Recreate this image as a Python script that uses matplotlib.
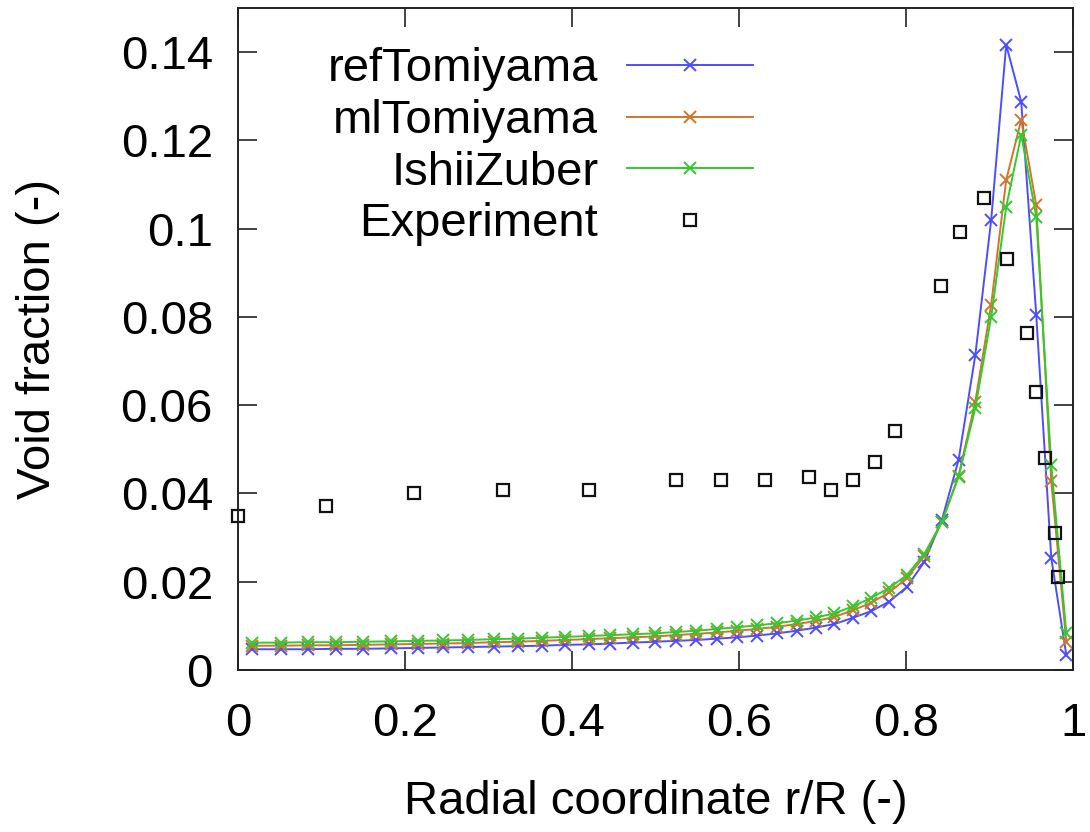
import matplotlib
matplotlib.use("Agg")
import matplotlib.pyplot as plt

plt.rcParams['font.family'] = ['Liberation Sans', 'DejaVu Sans']

# radial mesh positions of the simulation results
r_sim = [0.017, 0.051, 0.084, 0.117, 0.150, 0.183, 0.215, 0.246, 0.276, 0.306,
         0.335, 0.364, 0.392, 0.420, 0.446, 0.473, 0.499, 0.524, 0.549, 0.574,
         0.598, 0.622, 0.646, 0.669, 0.692, 0.714, 0.736, 0.758, 0.780, 0.801,
         0.822, 0.843, 0.863, 0.883, 0.902, 0.920, 0.938, 0.956, 0.974, 0.992]

ref_tomiyama = [0.0047, 0.0047, 0.0047, 0.0048, 0.0048, 0.0049, 0.0050, 0.0051, 0.0052, 0.0053,
                0.0054, 0.0055, 0.0057, 0.0058, 0.0060, 0.0062, 0.0064, 0.0066, 0.0068, 0.0071,
                0.0074, 0.0078, 0.0083, 0.0089, 0.0096, 0.0104, 0.0118, 0.0133, 0.0155, 0.0188,
                0.0245, 0.0340, 0.0476, 0.0713, 0.1019, 0.1416, 0.1287, 0.0804, 0.0253, 0.0034]

ml_tomiyama = [0.0055, 0.0055, 0.0056, 0.0056, 0.0057, 0.0058, 0.0059, 0.0060, 0.0061, 0.0063,
               0.0064, 0.0066, 0.0068, 0.0070, 0.0072, 0.0074, 0.0076, 0.0079, 0.0082, 0.0085,
               0.0089, 0.0093, 0.0098, 0.0104, 0.0111, 0.0120, 0.0135, 0.0152, 0.0176, 0.0208,
               0.0258, 0.0335, 0.0440, 0.0608, 0.0827, 0.1110, 0.1246, 0.1053, 0.0427, 0.0064]

ishii_zuber = [0.0062, 0.0062, 0.0063, 0.0063, 0.0064, 0.0065, 0.0066, 0.0067, 0.0068, 0.0070,
               0.0071, 0.0073, 0.0075, 0.0077, 0.0079, 0.0081, 0.0083, 0.0086, 0.0089, 0.0093,
               0.0097, 0.0101, 0.0106, 0.0112, 0.0119, 0.0128, 0.0144, 0.0163, 0.0186, 0.0215,
               0.0263, 0.0336, 0.0438, 0.0593, 0.0800, 0.1049, 0.1212, 0.1027, 0.0464, 0.0083]

r_exp = [0.000, 0.105, 0.211, 0.317, 0.420, 0.525, 0.578, 0.631, 0.684, 0.710,
         0.736, 0.763, 0.787, 0.842, 0.865, 0.893, 0.921, 0.945, 0.956, 0.967,
         0.978, 0.982]
alpha_exp = [0.0349, 0.0371, 0.0400, 0.0408, 0.0408, 0.0430, 0.0430, 0.0430, 0.0438, 0.0408,
             0.0430, 0.0470, 0.0541, 0.0870, 0.0991, 0.1068, 0.0932, 0.0763, 0.0629, 0.0480,
             0.0310, 0.0210]

x_ticks = [0, 0.2, 0.4, 0.6, 0.8, 1.0]
x_tick_labels = ['0', '0.2', '0.4', '0.6', '0.8', '1']
y_ticks = [0, 0.02, 0.04, 0.06, 0.08, 0.10, 0.12, 0.14]
y_tick_labels = ['0', '0.02', '0.04', '0.06', '0.08', '0.1', '0.12', '0.14']

FS = 34

fig = plt.figure(figsize=(10.9, 8.32), dpi=100)
ax = fig.add_axes([238 / 1090, 1 - 670 / 832, (1073 - 238) / 1090, (670 - 7.75) / 832])

line_kw = dict(lw=1.4, marker='x', ms=8, mew=1.4)
ax.plot(r_sim, ref_tomiyama, color='#4d4dff', label='refTomiyama', **line_kw)
ax.plot(r_sim, ml_tomiyama, color='#d2742a', label='mlTomiyama', **line_kw)
ax.plot(r_sim, ishii_zuber, color='#2ecc2e', label='IshiiZuber', **line_kw)
ax.plot(r_exp, alpha_exp, ls='none', marker='s', ms=8, mew=1.6, mfc='none', mec='#111111',
        label='Experiment', clip_on=False)

ax.set_xlim(0, 1)
ax.set_ylim(0, 0.15)
ax.set_xticks(x_ticks)
ax.set_xticklabels(x_tick_labels)
ax.set_yticks(y_ticks)
ax.set_yticklabels(y_tick_labels)
ax.tick_params(direction='in', length=14, width=1.2, top=True, right=True,
               labelsize=FS, pad=18, color='#222222')
ax.tick_params(axis='x', pad=23)
for s in ax.spines.values():
    s.set_linewidth(1.4)
    s.set_color('#222222')

ax.set_xlabel('Radial coordinate r/R (-)', fontsize=FS)
ax.set_ylabel('Void fraction (-)', fontsize=FS)
ax.xaxis.set_label_coords(0.5, -0.166)
ax.yaxis.set_label_coords(-0.213, 0.5)

leg = ax.legend(loc='upper right', bbox_to_anchor=(0.617, 0.940), frameon=False,
                markerfirst=False, fontsize=FS, handlelength=2.68, handletextpad=0.6,
                labelspacing=0.16, borderpad=0, borderaxespad=0, numpoints=1)

fig.savefig('out.png', dpi=100)
